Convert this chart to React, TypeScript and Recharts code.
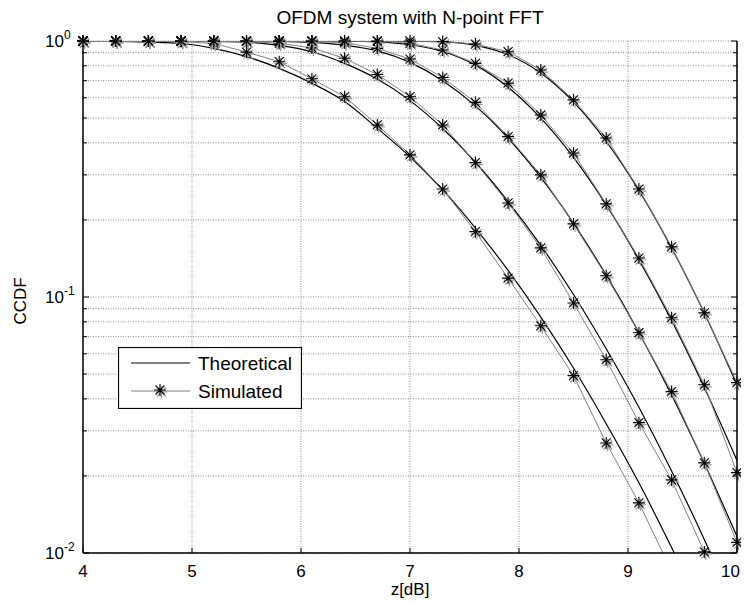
import { LineChart, Line, XAxis, YAxis, CartesianGrid, Legend, Label } from "recharts";

// PAPR CCDF, N = 64 / 128 / 256 / 512 / 1024 (left to right)
const zdB = [4.0, 4.3, 4.6, 4.9, 5.2, 5.5, 5.8, 6.1, 6.4, 6.7, 7.0, 7.3, 7.6, 7.9, 8.2, 8.5, 8.8, 9.1, 9.4, 9.7, 10.0];

const theory64 = [0.999, 0.997, 0.99, 0.978, 0.936, 0.869, 0.782, 0.684, 0.58, 0.456, 0.353, 0.262, 0.186, 0.127, 0.0835, 0.0528, 0.032, 0.0188, 0.0105, 0.0057, 0.0029];
const sim64 = [1, 1, 0.999, 0.995, 0.978, 0.905, 0.83, 0.712, 0.606, 0.47, 0.359, 0.264, 0.18, 0.1185, 0.0772, 0.0493, 0.0269, 0.0157, 0.0085, 0.0045, 0.0023];

const theory128 = [1, 1, 1, 0.999, 0.997, 0.99, 0.962, 0.908, 0.818, 0.71, 0.585, 0.455, 0.336, 0.236, 0.159, 0.1023, 0.0628, 0.0371, 0.0209, 0.0113, 0.0058];
const sim128 = [1, 1, 1, 1, 0.999, 0.996, 0.98, 0.94, 0.856, 0.74, 0.606, 0.47, 0.335, 0.233, 0.1556, 0.0948, 0.0569, 0.0323, 0.0193, 0.0101, 0.0052];

const theory256 = [1, 1, 1, 1, 1, 0.9994, 0.997, 0.988, 0.962, 0.915, 0.825, 0.7, 0.558, 0.417, 0.293, 0.194, 0.1217, 0.0727, 0.0414, 0.0224, 0.0116];
const sim256 = [1, 1, 1, 1, 1, 1, 0.999, 0.995, 0.985, 0.936, 0.85, 0.72, 0.576, 0.423, 0.3, 0.193, 0.121, 0.0725, 0.0427, 0.0225, 0.011];

const theory512 = [1, 1, 1, 1, 1, 1, 1, 0.9998, 0.9986, 0.992, 0.967, 0.91, 0.805, 0.66, 0.5, 0.351, 0.229, 0.14, 0.081, 0.0443, 0.023];
const sim512 = [1, 1, 1, 1, 1, 1, 1, 1, 1, 0.998, 0.98, 0.922, 0.818, 0.684, 0.514, 0.365, 0.231, 0.142, 0.083, 0.0454, 0.0206];

const theory1024 = [1, 1, 1, 1, 1, 1, 1, 1, 1, 0.9999, 0.999, 0.9916, 0.962, 0.884, 0.75, 0.578, 0.405, 0.261, 0.1555, 0.0866, 0.0454];
const sim1024 = [1, 1, 1, 1, 1, 1, 1, 1, 1, 1, 1, 0.995, 0.973, 0.908, 0.77, 0.589, 0.418, 0.264, 0.157, 0.0867, 0.0463];

const xTicks = [4, 5, 6, 7, 8, 9, 10];
const yTicks = [0.01, 0.02, 0.03, 0.04, 0.05, 0.06, 0.07, 0.08, 0.09, 0.1, 0.2, 0.3, 0.4, 0.5, 0.6, 0.7, 0.8, 0.9, 1];
const majorY = [0.01, 0.1, 1];
const majorExp = ["-2", "-1", "0"];

const TITLE = "OFDM system with N-point FFT";
const FONT = '"Liberation Sans", Arial, Helvetica, sans-serif';
const SIM_GRAY = "#808080";

const rows = zdB.map((z, i) => ({
  z,
  t64: theory64[i], s64: sim64[i],
  t128: theory128[i], s128: sim128[i],
  t256: theory256[i], s256: sim256[i],
  t512: theory512[i], s512: sim512[i],
  t1024: theory1024[i], s1024: sim1024[i],
}));

const keys = ["64", "128", "256", "512", "1024"];

function starPath(cx: number, cy: number) {
  const a = 6, d = 4.5;
  return `M${cx - a},${cy}H${cx + a}M${cx},${cy - a}V${cy + a}` +
    `M${cx - d},${cy - d}L${cx + d},${cy + d}M${cx - d},${cy + d}L${cx + d},${cy - d}`;
}

function Star({ cx, cy }: { cx: number; cy: number }) {
  return (
    <g>
      <path d={starPath(cx + 1.5, cy + 2)} stroke="#9a9a9a" strokeWidth={1.2} fill="none" />
      <path d={starPath(cx, cy)} stroke="#000" strokeWidth={1.1} fill="none" />
    </g>
  );
}

const markerDot = (p: any) => {
  if (p.cx == null || p.cy == null || p.value == null || Number.isNaN(p.cy)) {
    return <g key={p.key ?? `e${p.index}`} />;
  }
  return (
    <g key={p.key ?? `m${p.index}`}>
      <Star cx={p.cx} cy={p.cy} />
    </g>
  );
};

const isMajor = (v: number) => majorY.findIndex((m) => Math.abs(m - v) < 1e-9);

function LeftTick(props: any) {
  const { x, y, payload } = props;
  const k = isMajor(payload.value);
  return (
    <g>
      <line x1={x} x2={x + (k >= 0 ? 6 : 4)} y1={y} y2={y} stroke="#000" />
      {k >= 0 && (
        <text x={x - 38} y={y + 6} fontSize={17} fontFamily={FONT} fill="#000">
          10
          <tspan dy={-8} fontSize={12}>{majorExp[k]}</tspan>
        </text>
      )}
    </g>
  );
}

function RightTick(props: any) {
  const { x, y, payload } = props;
  const k = isMajor(payload.value);
  return <line x1={x} x2={x - (k >= 0 ? 6 : 4)} y1={y} y2={y} stroke="#000" />;
}

function BottomTick(props: any) {
  const { x, y, payload } = props;
  // the page crops just past the right axis, so the last label is pulled in
  const last = payload.value === xTicks[xTicks.length - 1];
  return (
    <g>
      <line x1={x} x2={x} y1={y} y2={y - 5} stroke="#000" />
      <text
        x={last ? x + 3 : x}
        y={y + 24}
        textAnchor={last ? "end" : "middle"}
        fontSize={17}
        fontFamily={FONT}
        fill="#000"
      >
        {payload.value}
      </text>
    </g>
  );
}

function TopTick(props: any) {
  const { x, y } = props;
  return <line x1={x} x2={x} y1={y} y2={y + 5} stroke="#000" />;
}

function YLabel(props: any) {
  const vb = props.viewBox;
  const cx = 18;
  const cy = vb.y + vb.height / 2 + 4;
  return (
    <text x={cx} y={cy} transform={`rotate(-90, ${cx}, ${cy})`} textAnchor="middle" fontSize={17} fontFamily={FONT} fill="#000">
      CCDF
    </text>
  );
}

function XLabel(props: any) {
  const vb = props.viewBox;
  return (
    <text x={vb.x + vb.width / 2} y={vb.y + 42} textAnchor="middle" fontSize={17} fontFamily={FONT} fill="#000">
      z[dB]
    </text>
  );
}

function LegendBox() {
  return (
    <svg width={184} height={62} style={{ display: "block" }}>
      <rect x={0.5} y={0.5} width={183} height={61} fill="#fff" stroke="#000" strokeWidth={1.2} />
      <line x1={13} x2={72} y1={16} y2={16} stroke="#000" strokeWidth={1.2} />
      <text x={80} y={22.5} fontSize={19} fontFamily={FONT} fill="#000">Theoretical</text>
      <line x1={13} x2={72} y1={44} y2={44} stroke={SIM_GRAY} strokeWidth={1} />
      <Star cx={42} cy={43} />
      <text x={80} y={50.5} fontSize={19} fontFamily={FONT} fill="#000">Simulated</text>
    </svg>
  );
}

export default function App() {
  return (
    <div style={{ position: "relative", width: 741, height: 590, overflow: "hidden" }}>
      <LineChart
        width={741}
        height={590}
        data={rows}
        margin={{ top: 33, right: 0, bottom: 4, left: 0 }}
        style={{ overflow: "visible" }}
      >
        <CartesianGrid stroke="#8a8a8a" strokeDasharray="1 1.5" />
        <XAxis
          dataKey="z"
          type="number"
          domain={[4, 10]}
          ticks={xTicks}
          interval={0}
          height={41}
          tickSize={0}
          tickMargin={0}
          tick={<BottomTick />}
          axisLine={{ stroke: "#000", strokeWidth: 1.5 }}
          tickLine={false}
        >
          <Label content={<XLabel />} />
        </XAxis>
        <XAxis
          xAxisId="top"
          dataKey="z"
          type="number"
          orientation="top"
          domain={[4, 10]}
          ticks={xTicks}
          interval={0}
          height={0}
          tickSize={0}
          tickMargin={0}
          tick={<TopTick />}
          axisLine={{ stroke: "#000", strokeWidth: 1.5 }}
          tickLine={false}
        />
        <YAxis
          type="number"
          scale="log"
          domain={[0.01, 1]}
          allowDataOverflow
          ticks={yTicks}
          interval={0}
          width={75}
          tickSize={0}
          tickMargin={0}
          tick={<LeftTick />}
          axisLine={{ stroke: "#000", strokeWidth: 1.5 }}
          tickLine={false}
        >
          <Label content={<YLabel />} />
        </YAxis>
        <YAxis
          yAxisId="r"
          orientation="right"
          type="number"
          scale="log"
          domain={[0.01, 1]}
          ticks={yTicks}
          interval={0}
          width={12}
          tickSize={0}
          tickMargin={0}
          tick={<RightTick />}
          axisLine={{ stroke: "#000", strokeWidth: 1.5 }}
          tickLine={false}
        />
        {keys.map((k) => (
          <Line
            key={`t${k}`}
            dataKey={`t${k}`}
            type="monotone"
            stroke="#000"
            strokeWidth={1.2}
            dot={false}
            activeDot={false}
            isAnimationActive={false}
          />
        ))}
        {keys.map((k) => (
          <Line
            key={`s${k}`}
            dataKey={`s${k}`}
            type="linear"
            stroke={SIM_GRAY}
            strokeWidth={1}
            dot={false}
            activeDot={false}
            isAnimationActive={false}
          />
        ))}
        {keys.map((k) => (
          <Line
            key={`m${k}`}
            xAxisId="top"
            yAxisId="r"
            dataKey={(r: any) => (r[`s${k}`] >= 0.01 ? r[`s${k}`] : null)}
            stroke="none"
            dot={markerDot}
            activeDot={false}
            isAnimationActive={false}
          />
        ))}
        <Legend
          verticalAlign="middle"
          align="center"
          layout="horizontal"
          content={<LegendBox />}
          wrapperStyle={{ left: 110, top: 339, width: 184, height: 62, right: "auto", bottom: "auto" }}
        />
      </LineChart>
      <div
        style={{
          position: "absolute",
          left: 75,
          top: 0,
          width: 654,
          textAlign: "center",
          fontFamily: FONT,
          fontSize: 19,
          lineHeight: "19px",
          color: "#000",
          pointerEvents: "none",
        }}
      >
        {TITLE}
      </div>
    </div>
  );
}
